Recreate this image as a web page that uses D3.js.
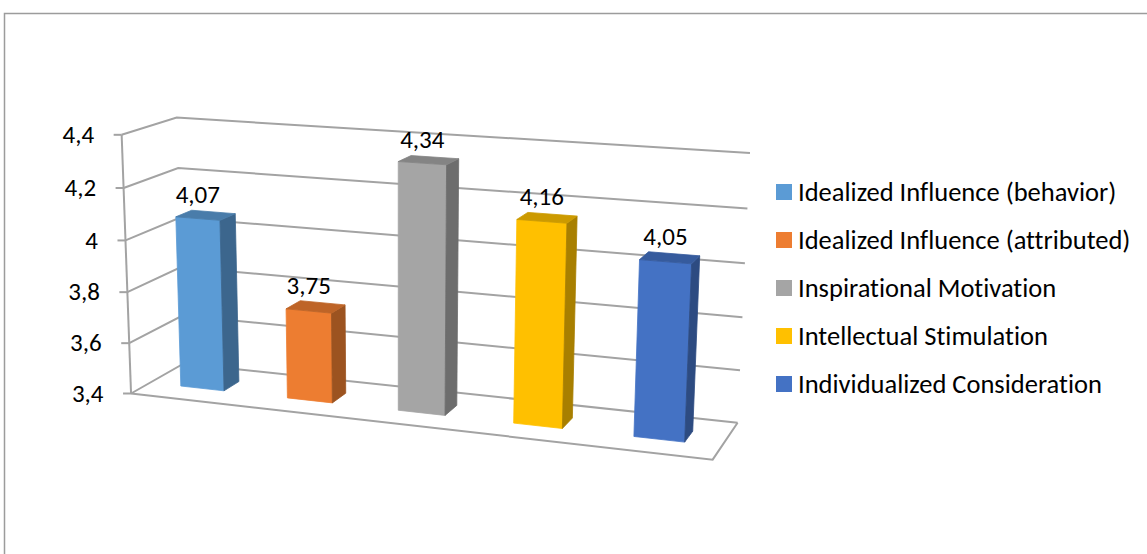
<!DOCTYPE html>
<html>
<head>
<meta charset="utf-8">
<script src="https://cdn.jsdelivr.net/npm/d3@7"></script>
<style>
  html, body { margin: 0; padding: 0; background: #fff; }
  svg { display: block; }
  text { font-family: Carlito, "Open Sans", Lato, sans-serif; fill: #000; font-variant-ligatures: none; }
</style>
</head>
<body>
<svg id="chart" width="1147" height="554"></svg>
<script>
// ---- data ----------------------------------------------------------------
const seriesNames = [
  "Idealized Influence (behavior)",
  "Idealized Influence (attributed)",
  "Inspirational Motivation",
  "Intellectual Stimulation",
  "Individualized Consideration"
];
const seriesValues = [4.07, 3.75, 4.34, 4.16, 4.05];
const seriesColors = ["#5B9BD5", "#ED7D31", "#A5A5A5", "#FFC000", "#4472C4"];
const valueTicks = [3.4, 3.6, 3.8, 4.0, 4.2, 4.4];
const valueDomain = [3.4, 4.4];

// ---- number formatting (comma decimal separator) --------------------------
const locale = d3.formatLocale({ decimal: ",", thousands: ".", grouping: [3], currency: ["", ""] });
const tickFormat = locale.format(".1~f");
const labelFormat = locale.format(".2f");

// ---- 3-D plot box: world coords x (category), y (value), z (depth) in [0,1]
// Screen anchors of the plot-box corners and gridline ends, used to solve
// a projective camera (3x4 matrix) by least squares.
const boxAnchors = [
  [[0, 1.0, 0], [121, 137]], [[0, 0.8, 0], [123, 188]], [[0, 0.6, 0], [125, 240]],
  [[0, 0.4, 0], [127, 291]], [[0, 0.2, 0], [130, 342]], [[0, 0.0, 0], [132, 392]],
  [[0, 1.0, 1], [177, 117]], [[0, 0.8, 1], [179, 167]], [[0, 0.0, 1], [183, 367]],
  [[1, 1.0, 1], [750, 154]], [[1, 0.8, 1], [748, 209]], [[1, 0.6, 1], [745, 263]],
  [[1, 0.4, 1], [742, 316]], [[1, 0.2, 1], [740, 369]], [[1, 0.0, 1], [737, 422]],
  [[1, 0.0, 0], [713, 462]]
];

function solveCamera(pairs) {
  const cu = d3.mean(pairs, p => p[1][0]);
  const cv = d3.mean(pairs, p => p[1][1]);
  const s = 300;
  const rows = [], rhs = [];
  for (const [[X, Y, Z], [u0, v0]] of pairs) {
    const u = (u0 - cu) / s, v = (v0 - cv) / s;
    rows.push([X, Y, Z, 1, 0, 0, 0, 0, -u * X, -u * Y, -u * Z]); rhs.push(u);
    rows.push([0, 0, 0, 0, X, Y, Z, 1, -v * X, -v * Y, -v * Z]); rhs.push(v);
  }
  const n = 11;
  const M = Array.from({ length: n }, () => new Array(n + 1).fill(0));
  rows.forEach((r, k) => {
    for (let i = 0; i < n; i++) {
      for (let j = 0; j < n; j++) M[i][j] += r[i] * r[j];
      M[i][n] += r[i] * rhs[k];
    }
  });
  for (let c = 0; c < n; c++) {
    let piv = c;
    for (let r = c + 1; r < n; r++) if (Math.abs(M[r][c]) > Math.abs(M[piv][c])) piv = r;
    [M[c], M[piv]] = [M[piv], M[c]];
    for (let r = 0; r < n; r++) {
      if (r === c) continue;
      const f = M[r][c] / M[c][c];
      for (let j = c; j <= n; j++) M[r][j] -= f * M[c][j];
    }
  }
  const p = M.map((r, i) => r[n] / r[i]);
  return (X, Y, Z) => {
    const w = p[8] * X + p[9] * Y + p[10] * Z + 1;
    const u = (p[0] * X + p[1] * Y + p[2] * Z + p[3]) / w;
    const v = (p[4] * X + p[5] * Y + p[6] * Z + p[7]) / w;
    return [u * s + cu, v * s + cv];
  };
}
const project = solveCamera(boxAnchors);

// ---- scales ----------------------------------------------------------------
const y = d3.scaleLinear().domain(valueDomain).range([0, 1]);
const xCenter = d3.scalePoint().domain(seriesNames).range([0, 1]).padding(0.5);
const barWidth = 0.082;          // along category axis (world units)
const barDepth = [0.35, 0.65];   // along depth axis (world units)

const svg = d3.select("#chart");
const gridColor = "#A3A3A3";
const numberSize = 25;
const legendSize = 26.5;

// chart area border
svg.append("path")
  .attr("d", "M4.5,554 V13.5 H1147")
  .attr("fill", "none").attr("stroke", "#9C9C9C").attr("stroke-width", 1.5);

const line = d3.line();
const grid = svg.append("g").attr("fill", "none").attr("stroke", gridColor).attr("stroke-width", 2);

// gridlines on side wall and back wall
valueTicks.forEach(t => {
  const yy = y(t);
  grid.append("path").attr("d", line([project(0, yy, 0), project(0, yy, 1), project(1, yy, 1)]));
});
// floor outline
grid.append("path").attr("d", line([
  project(0, 0, 0), project(1, 0, 0), project(1, 0, 1)
]));

// value axis line and tick marks
const axisG = svg.append("g");
axisG.append("path")
  .attr("d", line([project(0, 0, 0), project(0, 1, 0)]))
  .attr("stroke", gridColor).attr("stroke-width", 2).attr("fill", "none");
valueTicks.forEach(t => {
  const [px, py] = project(0, y(t), 0);
  axisG.append("line")
    .attr("x1", px - 8).attr("x2", px).attr("y1", py).attr("y2", py)
    .attr("stroke", gridColor).attr("stroke-width", 2);
  axisG.append("text")
    .attr("x", px - 27.5).attr("y", py).attr("dy", "0.33em")
    .attr("text-anchor", "end").attr("font-size", numberSize)
    .text(tickFormat(t));
});

// ---- 3-D columns -----------------------------------------------------------
function shade(hex, k) {
  const c = d3.rgb(hex);
  return d3.rgb(c.r * k, c.g * k, c.b * k).formatHex();
}
const bars = svg.append("g");
seriesNames.forEach((name, i) => {
  const xc = xCenter(name);
  const x0 = xc - barWidth / 2, x1 = xc + barWidth / 2;
  const [z0, z1] = barDepth;
  const top = y(seriesValues[i]);
  const col = seriesColors[i];
  const g = bars.append("g");
  const face = (pts, fill) => g.append("path")
    .attr("d", line(pts.map(p => project(...p))) + "Z")
    .attr("fill", fill).attr("stroke", fill).attr("stroke-width", 0.8)
    .attr("stroke-linejoin", "round");
  // front face
  face([[x0, 0, z0], [x1, 0, z0], [x1, top, z0], [x0, top, z0]], col);
  // right side face
  face([[x1, 0, z0], [x1, 0, z1], [x1, top, z1], [x1, top, z0]], shade(col, 0.66));
  // top face
  face([[x0, top, z0], [x1, top, z0], [x1, top, z1], [x0, top, z1]], shade(col, 0.8));

  // value label above the column
  const [lx] = project(xc, top, z0);
  const [, ly] = project(xc, top, z1);
  g.append("text")
    .attr("x", lx).attr("y", ly - 9)
    .attr("text-anchor", "middle").attr("font-size", numberSize)
    .text(labelFormat(seriesValues[i]));
});

// ---- legend ----------------------------------------------------------------
const legend = svg.append("g").attr("transform", "translate(776,192)");
seriesNames.forEach((name, i) => {
  const row = legend.append("g").attr("transform", `translate(0,${i * 48})`);
  row.append("rect").attr("x", 0).attr("y", -8).attr("width", 16).attr("height", 16)
    .attr("fill", seriesColors[i]);
  row.append("text").attr("x", 22).attr("y", 0).attr("dy", "0.33em")
    .attr("font-size", legendSize).text(name);
});
</script>
</body>
</html>
